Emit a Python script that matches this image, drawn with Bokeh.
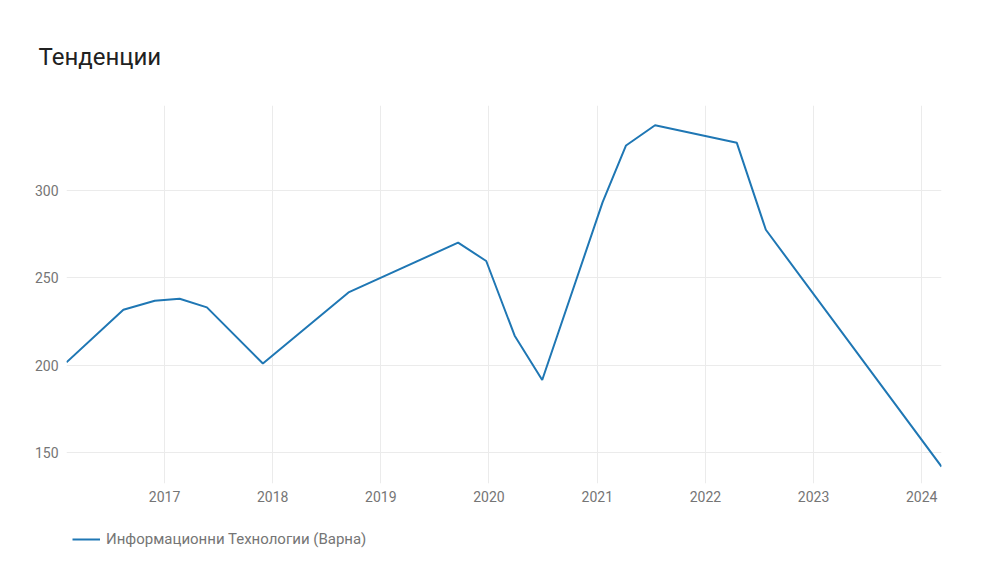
import pandas as pd
from bokeh.plotting import figure
from bokeh.layouts import column
from bokeh.models import (FixedTicker, DatetimeTickFormatter, Legend, LegendItem,
                          ColumnDataSource, Range1d)
from bokeh.embed import file_html
from bokeh.resources import INLINE

# ---- data ----
dates = ["2016-02-05", "2016-08-15", "2016-11-29", "2017-02-21", "2017-05-24",
         "2017-11-29", "2018-09-14", "2019-09-19", "2019-12-23", "2020-03-28",
         "2020-06-29", "2021-01-19", "2021-04-08", "2021-07-15", "2022-04-17",
         "2022-07-24", "2024-03-08"]
values = [201.5, 231.7, 236.8, 238.0, 233.0,
          200.9, 241.6, 270.1, 259.6, 216.8,
          191.4, 293.3, 325.8, 337.4, 327.3,
          277.5, 141.8]
series_name = "Информационни Технологии (Варна)"
title_text = "Тенденции"
year_ticks = [2017, 2018, 2019, 2020, 2021, 2022, 2023, 2024]
y_ticks = [150, 200, 250, 300]
y_min, y_max = 132.1, 348.7

x = pd.to_datetime(dates)
x_ms = [t.value / 1e6 for t in x]
src = ColumnDataSource(dict(x=x_ms, y=values))

FONT = "Roboto"
LABEL_COLOR = "#757575"
GRID_COLOR = "#ebebeb"
LINE_COLOR = "#1f77b4"

p = figure(width=985, height=508, x_axis_type="datetime",
           output_backend="svg", toolbar_location=None,
           x_range=Range1d(min(x_ms), max(x_ms)), y_range=Range1d(y_min, y_max),
           min_border_left=66, min_border_right=44, min_border_top=105,
           min_border_bottom=25)
p.outline_line_color = None
p.background_fill_color = "white"
p.border_fill_color = "white"

p.title.text = title_text
p.title.text_font = FONT
p.title.text_font_size = "24px"
p.title.text_font_style = "normal"
p.title.text_color = "#212121"
p.title.align = "left"
p.title.offset = -28
p.title.standoff = 69

tick_ms = [pd.Timestamp(f"{yr}-01-01").value / 1e6 for yr in year_ticks]
p.xaxis.ticker = FixedTicker(ticks=tick_ms)
p.xaxis.formatter = DatetimeTickFormatter(years="%Y", months="%Y", days="%Y",
                                          hours="%Y", minutes="%Y", seconds="%Y",
                                          milliseconds="%Y", microseconds="%Y")
p.yaxis.ticker = FixedTicker(ticks=y_ticks)

for ax in (p.xaxis[0], p.yaxis[0]):
    ax.axis_line_color = None
    ax.major_tick_line_color = None
    ax.minor_tick_line_color = None
    ax.major_tick_out = 0
    ax.major_tick_in = 0
    ax.major_label_text_font = FONT
    ax.major_label_text_font_size = "14px"
    ax.major_label_text_color = LABEL_COLOR
p.xaxis.major_label_standoff = 7
p.yaxis.major_label_standoff = 8

p.xgrid.grid_line_color = GRID_COLOR
p.ygrid.grid_line_color = GRID_COLOR

p.line("x", "y", source=src, line_color=LINE_COLOR, line_width=2)

# ---- legend strip below the chart ----
lg = figure(width=985, height=60, output_backend="svg", toolbar_location=None,
            x_axis_location=None, y_axis_location=None,
            x_range=Range1d(0, 1), y_range=Range1d(0, 1),
            min_border_left=0, min_border_right=0, min_border_top=0,
            min_border_bottom=0)
lg.outline_line_color = None
lg.grid.visible = False
lg.border_fill_color = "white"
lg.background_fill_color = "white"
# same series drawn far outside this strip's ranges: used only as legend swatch
swatch = lg.line("x", "y", source=src, line_color=LINE_COLOR, line_width=2)
legend = Legend(items=[LegendItem(label=series_name, renderers=[swatch])],
                location=(6, 19), orientation="horizontal",
                border_line_color=None, background_fill_alpha=0,
                label_text_font=FONT, label_text_font_size="15px",
                label_text_color=LABEL_COLOR, glyph_width=28,
                label_standoff=6, padding=5, margin=0)
lg.add_layout(legend, "center")

layout = column(p, lg, spacing=0)
open("out.html", "w").write(file_html(layout, INLINE))
